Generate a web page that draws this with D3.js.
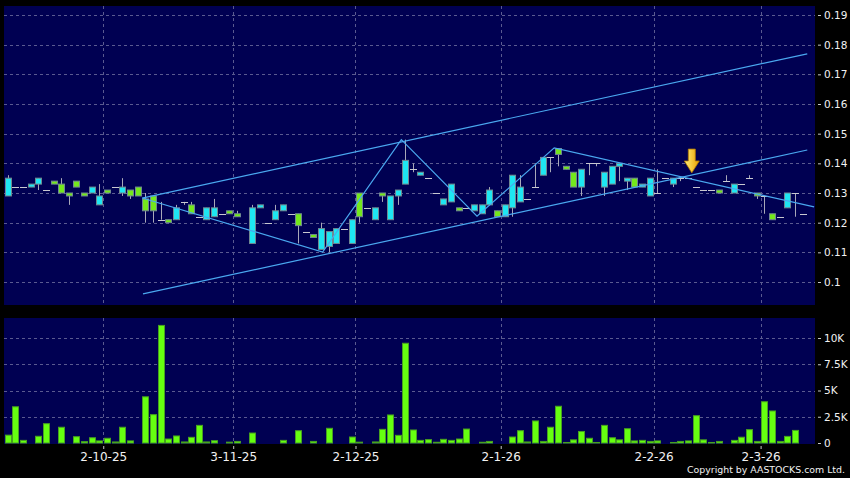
<!DOCTYPE html>
<html>
<head>
<meta charset="utf-8">
<script src="https://cdn.jsdelivr.net/npm/d3@7"></script>
<style>
body { margin: 0; background: #000; }
svg { display: block; font-family: "DejaVu Sans", sans-serif; }
</style>
</head>
<body>
<svg width="850" height="478"></svg>
<script>
// daily candles, one slot per trading day (null = no trade)
var opens  = [.135,.132,.132,.133,.135,.131,.133,.130,.129,.132,.129,.132,.129,.130,.132,.132,.129,.129,.124,.124,
              .121,.120,.125,.127,.123,.122,.125,.125,.123,.123,.122,null,.125,.126,.120,.124,.126,.123,.119,.117,
              .115,.118,.117,.118,.118,.121,.122,.125,.125,.129,.129,.131,.141,.138,.137,.135,.130,.128,.133,.124,
              .125,.126,.126,.131,.122,.126,.136,.132,.128,.132,.142,.142,.143,.138,.132,.138,.140,.140,.137,.139,
              .140,.135,.132,.133,.135,.130,.135,.135,.135,.135,.132,.131,.131,.130,.134,.133,.133,.135,.129,.129,
              .121,.122,.130,.130,.123];
var highs  = [.136,.132,.132,.133,.135,.131,.134,.135,.130,.134,.130,.132,.133,.131,.132,.135,.131,.132,.130,.129,
              .127,.121,.126,.127,.127,.122,.125,.128,.123,.124,.124,null,.126,.126,.120,.126,.126,.123,.123,.117,
              .116,.120,.117,.118,.118,.121,.130,.125,.125,.130,.129,.131,.148,.140,.137,.135,.130,.128,.133,.125,
              .125,.126,.126,.132,.124,.126,.136,.136,.128,.140,.142,.142,.145,.139,.137,.138,.140,.140,.137,.139,
              .140,.135,.135,.133,.135,.138,.135,.135,.135,.135,.132,.131,.131,.131,.136,.133,.133,.136,.130,.129,
              .123,.122,.130,.130,.123];
var lows   = [.129,.132,.132,.132,.131,.131,.133,.130,.126,.132,.129,.130,.126,.130,.132,.129,.128,.129,.120,.120,
              .121,.120,.121,.126,.123,.122,.121,.122,.123,.123,.122,null,.113,.125,.120,.121,.124,.123,.113,.117,
              .115,.111,.110,.113,.118,.113,.120,.125,.121,.127,.121,.126,.133,.137,.136,.135,.130,.126,.127,.124,
              .125,.124,.123,.126,.122,.122,.122,.127,.128,.132,.136,.137,.139,.138,.132,.129,.136,.139,.129,.133,
              .134,.131,.132,.132,.129,.130,.135,.132,.134,.135,.132,.131,.131,.130,.134,.130,.133,.135,.128,.123,
              .121,.122,.125,.122,.123];
var closes = [.129,.132,.132,.132,.133,.131,.134,.133,.130,.134,.130,.130,.126,.131,.132,.130,.131,.132,.128,.129,
              .121,.121,.121,.127,.126,.122,.121,.122,.123,.124,.123,null,.113,.125,.120,.121,.124,.123,.123,.117,
              .116,.111,.112,.113,.118,.113,.130,.125,.121,.130,.121,.129,.133,.138,.136,.135,.130,.126,.127,.125,
              .125,.124,.123,.126,.124,.122,.125,.127,.128,.132,.136,.142,.145,.139,.137,.132,.140,.140,.132,.133,
              .139,.134,.135,.132,.129,.130,.135,.133,.135,.135,.132,.131,.131,.131,.134,.130,.133,.135,.130,.129,
              .123,.122,.125,.130,.123];
var volumes = [750,3450,250,0,640,1840,0,1500,0,600,130,500,200,450,100,1500,200,0,4400,2700,
               11200,380,670,100,540,1680,100,220,0,80,150,0,950,0,0,0,250,0,1170,0,
               150,0,1400,0,0,570,80,0,100,1300,2670,730,9500,1240,250,320,70,350,250,380,
               1330,0,70,150,0,0,570,1170,100,2100,150,1500,3500,50,300,1100,450,50,1680,500,
               300,1360,200,250,150,200,0,50,150,200,2600,300,50,150,0,250,550,1270,150,3930,
               3050,150,630,1200,0];

// month ticks (slot index of first day) and labels
var tickIdx = [12, 29, 45, 64, 84, 98];
var tickLabels = ["2-10-25", "3-11-25", "2-12-25", "2-1-26", "2-2-26", "2-3-26"];
var priceTicks = [0.10, 0.11, 0.12, 0.13, 0.14, 0.15, 0.16, 0.17, 0.18, 0.19];
var volTicks = [0, 2500, 5000, 7500, 10000];
var volLabels = ["0", "2.5K", "5K", "7.5K", "10K"];

// hand drawn lines: [slot index, price]
var upperLine = [[17.6, 0.1283], [104.6, 0.1769]];
var lowerLine = [[17.7, 0.0960], [104.6, 0.1445]];
var zigzag = [[17.6, 0.1283], [41.2, 0.1101], [51.5, 0.1480], [61.4, 0.1222], [71.5, 0.1452], [105.5, 0.1253]];
var arrowMark = { idx: 89.5, top: 0.1448, tip: 0.1368 };

var svg = d3.select("svg"),
	width = +svg.attr("width"),
	height = +svg.attr("height");

var x = d3.scaleLinear().domain([0, 103]).range([7.7, 795]);
var y = d3.scaleLinear().domain([0.10, 0.19]).range([282, 15]);
var yv = d3.scaleLinear().domain([0, 10000]).range([443, 338]);

var left = 4, right = 815;
var gridColor = "#5a5a90";

// panels
svg.append("rect").attr("x", left).attr("y", 6).attr("width", right - left).attr("height", 299).attr("fill", "#000052");
svg.append("rect").attr("x", left).attr("y", 318).attr("width", right - left).attr("height", 126).attr("fill", "#000052");

// grids
var grid = svg.append("g").attr("stroke", gridColor).attr("stroke-dasharray", "3,3");
grid.selectAll(".hp").data(priceTicks).enter().append("line")
	.attr("x1", left).attr("x2", right)
	.attr("y1", function(d) { return Math.round(y(d)) + 0.5; })
	.attr("y2", function(d) { return Math.round(y(d)) + 0.5; });
grid.selectAll(".hv").data(volTicks.slice(1)).enter().append("line")
	.attr("x1", left).attr("x2", right)
	.attr("y1", function(d) { return Math.round(yv(d)) + 0.5; })
	.attr("y2", function(d) { return Math.round(yv(d)) + 0.5; });
tickIdx.forEach(function(i) {
	var gx = Math.round(x(i + 0.5)) + 0.5;
	grid.append("line").attr("x1", gx).attr("x2", gx).attr("y1", 6).attr("y2", 305);
	grid.append("line").attr("x1", gx).attr("x2", gx).attr("y1", 318).attr("y2", 444);
});

// candles
var candles = d3.range(opens.length).filter(function(i) { return opens[i] != null; });
var cg = svg.append("g");
cg.selectAll(".wick").data(candles).enter().append("line")
	.attr("x1", function(i) { return Math.round(x(i)) + 0.5; })
	.attr("x2", function(i) { return Math.round(x(i)) + 0.5; })
	.attr("y1", function(i) { return y(highs[i]); })
	.attr("y2", function(i) { return y(lows[i]); })
	.attr("stroke", "#a8a8b8");
cg.selectAll(".flat").data(candles.filter(function(i) { return opens[i] == closes[i]; })).enter().append("line")
	.attr("x1", function(i) { return Math.round(x(i)) - 3; })
	.attr("x2", function(i) { return Math.round(x(i)) + 4; })
	.attr("y1", function(i) { return Math.round(y(opens[i])) + 0.5; })
	.attr("y2", function(i) { return Math.round(y(opens[i])) + 0.5; })
	.attr("stroke", "#c8c8d0");
cg.selectAll(".body").data(candles.filter(function(i) { return opens[i] != closes[i]; })).enter().append("rect")
	.attr("x", function(i) { return Math.round(x(i)) - 2.5; })
	.attr("y", function(i) { return y(Math.max(opens[i], closes[i])); })
	.attr("width", 6)
	.attr("height", function(i) { return Math.abs(y(opens[i]) - y(closes[i])); })
	.attr("fill", function(i) { return closes[i] > opens[i] ? "#74e81c" : "#1ee6f2"; })
	.attr("stroke", "#6f8890");

// volume
svg.append("g").selectAll("rect")
	.data(d3.range(volumes.length).filter(function(i) { return volumes[i] > 0; }))
	.enter().append("rect")
		.attr("x", function(i) { return Math.round(x(i)) - 2.5; })
		.attr("y", function(i) { return yv(volumes[i]); })
		.attr("width", 6)
		.attr("height", function(i) { return yv(0) - yv(volumes[i]); })
		.attr("fill", "#66ff10")
		.attr("stroke", "#48a020");

// drawn lines
var lineGen = d3.line().x(function(d) { return x(d[0]); }).y(function(d) { return y(d[1]); });
[upperLine, lowerLine, zigzag].forEach(function(pts) {
	svg.append("path").datum(pts).attr("d", lineGen)
		.attr("fill", "none").attr("stroke", "#4aa8f0").attr("stroke-width", 1.2);
});

// arrow marker
var grad = svg.append("defs").append("linearGradient").attr("id", "arr");
grad.append("stop").attr("offset", "0").attr("stop-color", "#fff07a");
grad.append("stop").attr("offset", "1").attr("stop-color", "#e8a000");
var ax = x(arrowMark.idx), at = y(arrowMark.top), ap = y(arrowMark.tip), ah = at + (ap - at) * 0.5;
svg.append("path")
	.attr("d", "M" + (ax - 3.5) + "," + at + "L" + (ax + 3.5) + "," + at + "L" + (ax + 3.5) + "," + ah +
		"L" + (ax + 7.5) + "," + ah + "L" + ax + "," + ap + "L" + (ax - 7.5) + "," + ah + "L" + (ax - 3.5) + "," + ah + "Z")
	.attr("fill", "url(#arr)").attr("stroke", "#b07800").attr("stroke-width", 0.8);

// axes
function styleAxis(size) {
	return function(g) {
		g.select(".domain").remove();
		g.selectAll("line").attr("stroke", "#c8c8c8");
		g.selectAll("text").attr("fill", "#f2f2f2").attr("font-size", size).attr("font-family", "DejaVu Sans");
	};
}
svg.append("g").attr("transform", "translate(818,0)")
	.call(d3.axisRight(y).tickValues(priceTicks).tickSize(3).tickPadding(3)
		.tickFormat(function(d) { return String(+d.toFixed(2)); }))
	.call(styleAxis("10.5px"));
svg.append("g").attr("transform", "translate(818,0)")
	.call(d3.axisRight(yv).tickValues(volTicks).tickSize(3).tickPadding(3)
		.tickFormat(function(d, i) { return volLabels[i]; }))
	.call(styleAxis("10.5px"));
svg.append("g").attr("transform", "translate(0,446)")
	.call(d3.axisBottom(x).tickValues(tickIdx.map(function(i) { return i + 0.5; })).tickSize(3).tickPadding(3)
		.tickFormat(function(d, i) { return tickLabels[i]; }))
	.call(styleAxis("12px"));

svg.append("text")
	.attr("x", 845).attr("y", 473)
	.attr("text-anchor", "end")
	.attr("fill", "#f2f2f2")
	.attr("font-size", "9.5px")
	.attr("textLength", 158)
	.attr("lengthAdjust", "spacingAndGlyphs")
	.text("Copyright by AASTOCKS.com Ltd.");
</script>
</body>
</html>
